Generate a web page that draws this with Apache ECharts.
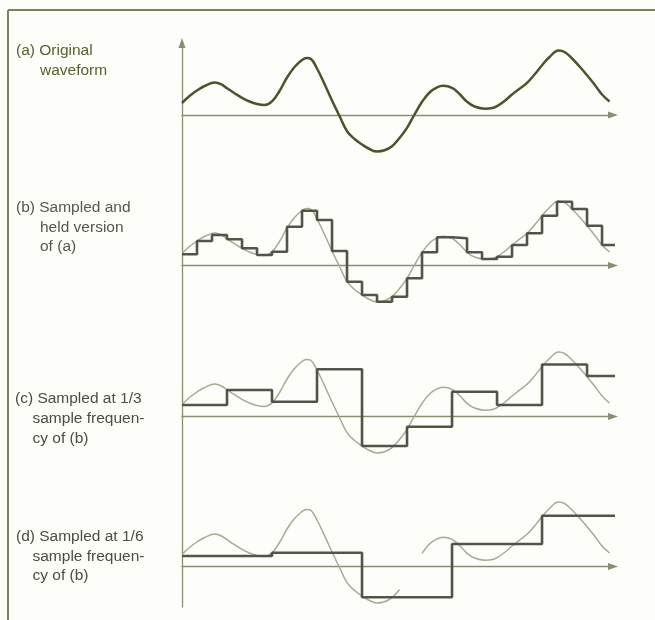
<!DOCTYPE html>
<html>
<head>
<meta charset="utf-8">
<script src="https://cdn.jsdelivr.net/npm/echarts@6/dist/echarts.min.js"></script>
<style>
html,body{margin:0;padding:0;background:#fdfdf9;}
#c{width:655px;height:620px;}
</style>
</head>
<body>
<div id="c"></div>
<script>
// Time in sample periods of (b); values in arbitrary units above the time axis
const waveT = [0, 0.5, 1, 1.5, 2.2, 2.6, 3, 3.5, 4, 4.5, 5, 5.5, 6, 6.5, 7, 7.5, 8, 8.3, 8.6, 9, 9.5, 10, 10.5, 11, 11.5, 12, 12.5, 13, 13.5, 14, 14.5, 15, 15.5, 16, 16.5, 17, 17.4, 18, 18.5, 19, 19.5, 20.2, 20.7, 21, 21.5, 22, 22.5, 23, 23.5, 24, 24.5, 25.1, 25.5, 26, 26.5, 27, 27.5, 28, 28.5];
const waveV = [12, 19, 24.5, 29, 32.5, 30.8, 26.8, 21.8, 17.2, 13.5, 11, 10, 13.6, 24, 37.5, 48, 55, 57, 56, 46.5, 31, 14.5, -1, -16.2, -24, -29.5, -34, -36.5, -35.3, -31.2, -23, -12.8, 0.5, 13.2, 22.5, 27.6, 29.2, 27.2, 21, 13.2, 8.5, 6.3, 7, 8.8, 14, 20.5, 26.3, 32.2, 40.5, 49.8, 58, 64.5, 63, 56.5, 48.5, 39.8, 30.5, 20.5, 13.5];
// times where the faint trace of (d) is broken in the print
const gapD = [15, 15.5];

// (b) sample and hold
const heldBT = [0,1,2,3,4,5,6,7,8,9,10,11,12,13,14,15,16,17,18,19,20,21,22,23,24,25,26,27,28];
const heldBV = [11.2,24.5,30.5,26.2,17.2,10.5,13.8,38.8,54.8,45.5,14.5,-16.2,-29.5,-36.2,-31.2,-12.8,13.2,28.2,27.2,13.2,6.5,8.8,20.5,32.2,49.8,63.8,56.5,39.8,20.5];
const endB = 29.0;

// (c) 1/3 sample frequency
const heldCT = [0,3,6,9,12,15,18,21,24,27];
const heldCV = [11.5,26.5,14.8,47.2,-29.5,-10.2,24.8,11.5,52.0,40.5];
const endC = 28.9;

// (d) 1/6 sample frequency
const heldDT = [0,6,12,18,24];
const heldDV = [10.5,13.8,-30.8,22.5,50.8];
const endD = 29.9;

const labelA = ['(a) Original', 'waveform'];
const labelB = ['(b) Sampled and', 'held version', 'of (a)'];
const labelC = ['(c) Sampled at 1/3', 'sample frequen-', 'cy of (b)'];
const labelD = ['(d) Sampled at 1/6', 'sample frequen-', 'cy of (b)'];

function pairs(t, v) { return t.map((x, i) => [x, v[i]]); }
function pairsGap(t, v, gap) { return t.map((x, i) => gap.indexOf(x) >= 0 ? [x, null] : [x, v[i]]); }
function held(t, v, end) { const d = pairs(t, v); d.push([end, v[v.length - 1]]); return d; }

const AXIS = '#8b8e75';
const GREY = '#a7aa94';
const STEP = '#525447';
const DARK = '#4e532e';

const grids = [
  {left: 182, top: 43, width: 431, height: 137},
  {left: 182, top: 180, width: 431, height: 150},
  {left: 182, top: 330, width: 431, height: 150},
  {left: 182, top: 480, width: 431, height: 127}
];
const yRanges = [[-65, 72], [-64.5, 85.5], [-63.5, 86.5], [-40.5, 86.5]];

const xAxes = grids.map((g, i) => ({
  type: 'value', gridIndex: i, min: 0, max: 28.73,
  axisLine: {show: true, onZero: true, symbol: ['none', 'triangle'], symbolSize: [7, 10],
             lineStyle: {color: AXIS, width: 1.4}},
  axisTick: {show: false}, axisLabel: {show: false}, splitLine: {show: false}
}));
const yAxes = grids.map((g, i) => ({
  type: 'value', gridIndex: i, min: yRanges[i][0], max: yRanges[i][1],
  axisLine: {show: true, onZero: false, symbol: i === 0 ? ['none', 'triangle'] : ['none', 'none'],
             symbolSize: [7, 10], lineStyle: {color: AXIS, width: 1.3}},
  axisTick: {show: false}, axisLabel: {show: false}, splitLine: {show: false}
}));

const SM = 0.4;
const series = [
  {type: 'line', xAxisIndex: 0, yAxisIndex: 0, data: pairs(waveT, waveV), smooth: SM,
   showSymbol: false, lineStyle: {color: DARK, width: 2.5}},
  {type: 'line', xAxisIndex: 1, yAxisIndex: 1, data: pairs(waveT, waveV), smooth: SM,
   showSymbol: false, lineStyle: {color: GREY, width: 1.5}},
  {type: 'line', xAxisIndex: 1, yAxisIndex: 1, data: held(heldBT, heldBV, endB), step: 'end', clip: false,
   showSymbol: false, lineStyle: {color: STEP, width: 2.6}},
  {type: 'line', xAxisIndex: 2, yAxisIndex: 2, data: pairs(waveT, waveV), smooth: SM,
   showSymbol: false, lineStyle: {color: GREY, width: 1.5}},
  {type: 'line', xAxisIndex: 2, yAxisIndex: 2, data: held(heldCT, heldCV, endC), step: 'end', clip: false,
   showSymbol: false, lineStyle: {color: STEP, width: 2.6}},
  {type: 'line', xAxisIndex: 3, yAxisIndex: 3, data: pairsGap(waveT, waveV, gapD), smooth: SM, connectNulls: false,
   showSymbol: false, lineStyle: {color: GREY, width: 1.5}},
  {type: 'line', xAxisIndex: 3, yAxisIndex: 3, data: held(heldDT, heldDV, endD), step: 'end', clip: false,
   showSymbol: false, lineStyle: {color: STEP, width: 2.6}}
];

function textBlock(lines, x0, x1, y0, dy, color) {
  return lines.map((s, i) => ({
    type: 'text', silent: true,
    style: {text: s, x: i === 0 ? x0 : x1, y: y0 + i * dy, fill: color,
            font: '15.5px "Liberation Sans", Arial, sans-serif', verticalAlign: 'middle', textVerticalAlign: 'middle'}
  }));
}

const graphic = [
  {type: 'line', silent: true, shape: {x1: 8, y1: 10, x2: 655, y2: 10}, style: {stroke: '#7c7f62', lineWidth: 2}},
  {type: 'line', silent: true, shape: {x1: 8, y1: 10, x2: 8, y2: 620}, style: {stroke: '#7c7f62', lineWidth: 2}}
].concat(
  textBlock(labelA, 16, 40, 51, 19.5, '#5a5f2e'),
  textBlock(labelB, 16, 40, 208, 19.3, '#55574a'),
  textBlock(labelC, 15, 32.5, 398.5, 20, '#4c4c45'),
  textBlock(labelD, 16, 32.5, 537, 19.5, '#4c4c45')
);

const chart = echarts.init(document.getElementById('c'));
chart.setOption({
  animation: false,
  backgroundColor: '#fdfdf9',
  grid: grids,
  xAxis: xAxes,
  yAxis: yAxes,
  series: series,
  graphic: graphic
});
</script>
</body>
</html>
